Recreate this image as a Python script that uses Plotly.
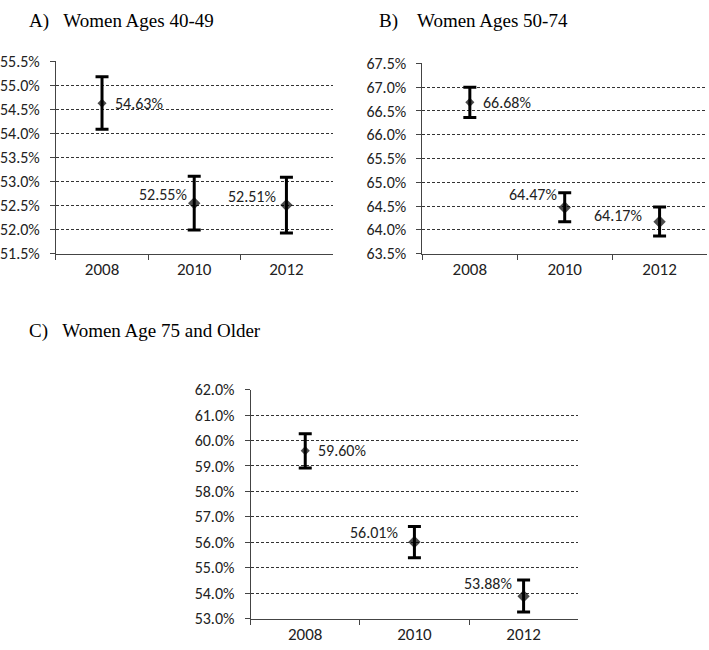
import plotly.graph_objects as go

years = ["2008", "2010", "2012"]

a_values = [54.63, 52.55, 52.51]
a_err_plus = [0.55, 0.56, 0.58]
a_err_minus = [0.54, 0.56, 0.58]

b_values = [66.68, 64.47, 64.17]
b_err_plus = [0.32, 0.31, 0.31]
b_err_minus = [0.32, 0.30, 0.30]

c_values = [59.60, 56.01, 53.88]
c_err_plus = [0.66, 0.61, 0.64]
c_err_minus = [0.68, 0.62, 0.62]

titles = ["A)&nbsp;&nbsp;&nbsp;Women Ages 40-49",
          "B)&nbsp;&nbsp;&nbsp;&nbsp;Women Ages 50-74",
          "C)&nbsp;&nbsp;&nbsp;Women Age 75 and Older"]

SANS = "Carlito, Lato, sans-serif"
SERIF = "Liberation Serif, DejaVu Serif, serif"

fig = go.Figure()

panels = [
    (a_values, a_err_plus, a_err_minus, "x", "y"),
    (b_values, b_err_plus, b_err_minus, "x2", "y2"),
    (c_values, c_err_plus, c_err_minus, "x3", "y3"),
]

for vals, ep, em, xa, ya in panels:
    fig.add_trace(go.Scatter(
        x=years, y=vals, mode="markers",
        marker=dict(symbol="diamond", color="black", size=[7, 9.5, 9.5],
                    line=dict(width=0)),
        error_y=dict(type="data", symmetric=False, array=ep, arrayminus=em,
                     color="black", thickness=3, width=6.5),
        xaxis=xa, yaxis=ya, showlegend=False, hoverinfo="skip",
    ))

# data labels: per point (anchor, xshift, yshift)
label_specs = [
    (a_values, "x", "y", [("left", 11, 0), ("right", -5, 9), ("right", -8, 9)]),
    (b_values, "x2", "y2", [("left", 11, 0), ("right", -6, 13), ("right", -16, 6)]),
    (c_values, "x3", "y3", [("left", 11, 0), ("right", -14, 10), ("right", -10, 13)]),
]
annotations = []
for vals, xa, ya, specs in label_specs:
    for i, (v, (anc, xs, ys)) in enumerate(zip(vals, specs)):
        annotations.append(dict(
            x=i, y=v, xref=xa, yref=ya, text=f"{v:.2f}%", showarrow=False,
            xanchor=anc, yanchor="middle", xshift=xs, yshift=ys,
            font=dict(family=SANS, size=16, color="#222"),
        ))

title_pos = [(26 / 709, 1 - 12 / 650), (377 / 709, 1 - 12 / 650), (26 / 709, 1 - 332 / 650)]
for t, (tx, ty) in zip(titles, title_pos):
    annotations.append(dict(
        x=tx, y=ty, xref="paper", yref="paper", text=t, showarrow=False,
        xanchor="left", yanchor="middle",
        font=dict(family=SERIF, size=19, color="black"),
    ))

def xaxis(domain, anchor):
    return dict(
        domain=domain, anchor=anchor, type="category", range=[-0.5, 2.5],
        showline=True, linecolor="#444", linewidth=1,
        ticks="outside", tickson="boundaries", ticklen=5, tickcolor="#444",
        showgrid=False, tickfont=dict(family=SANS, size=17, color="#222"),
        fixedrange=True,
    )

def yaxis(domain, anchor, rng, dtick):
    return dict(
        domain=domain, anchor=anchor, range=rng, dtick=dtick, tick0=rng[0],
        tickformat=".1f", ticksuffix="%",
        showline=True, linecolor="#444", linewidth=1,
        ticks="outside", ticklen=5, tickcolor="#444", ticklabelstandoff=7,
        showgrid=True, gridcolor="#333", gridwidth=1, griddash="3px,2px",
        zeroline=False, tickfont=dict(family=SANS, size=16, color="#222"),
        fixedrange=True,
    )

fig.update_layout(
    width=709, height=650,
    margin=dict(l=0, r=0, t=0, b=0),
    paper_bgcolor="white", plot_bgcolor="white",
    xaxis=xaxis([55 / 709, 332 / 709], "y"),
    yaxis=yaxis([1 - 252 / 650, 1 - 54 / 650], "x", [51.5, 55.5], 0.5),
    xaxis2=xaxis([422 / 709, 707 / 709], "y2"),
    yaxis2=yaxis([1 - 252 / 650, 1 - 56 / 650], "x2", [63.5, 67.5], 0.5),
    xaxis3=xaxis([250 / 709, 578 / 709], "y3"),
    yaxis3=yaxis([1 - 628 / 650, 1 - 392 / 650], "x3", [53.0, 62.0], 1.0),
    annotations=annotations,
)

fig.write_html("out.html", config={"displayModeBar": False},
               post_script="document.body.style.margin='0';")
